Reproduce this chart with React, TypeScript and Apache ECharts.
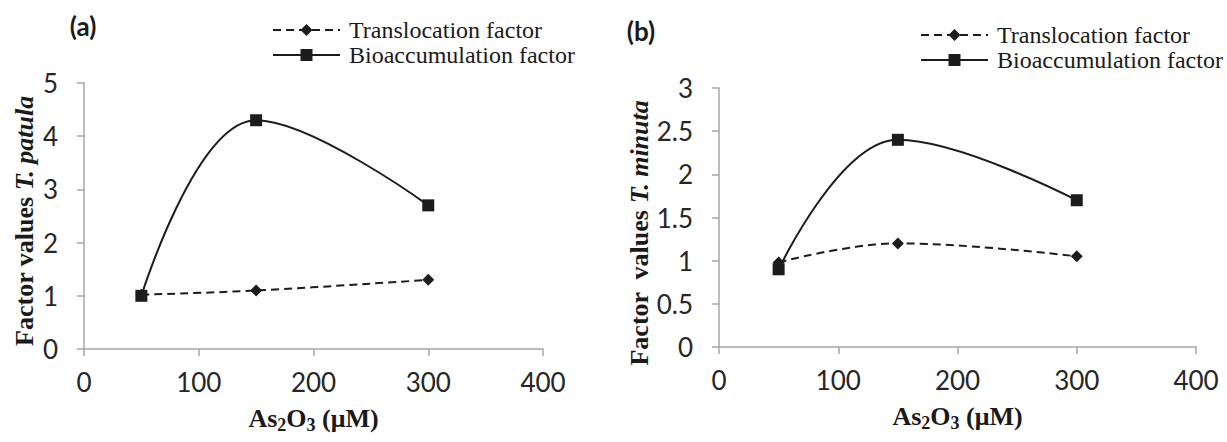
import React, { useEffect, useRef } from "react";
import * as echarts from "echarts";

// ---- data ----
const doses = [50, 150, 300];
const translocationA = [1.02, 1.1, 1.3];
const bioaccumulationA = [1.0, 4.3, 2.7];
const translocationB = [0.98, 1.2, 1.05];
const bioaccumulationB = [0.9, 2.4, 1.7];
const seriesNames = ["Translocation factor", "Bioaccumulation factor"];
const panelLabels = ["(a)", "(b)"];
const yTitleLead = ["Factor values ", "Factor  values "];
const yTitleSpecies = ["T. patula", "T. minuta"];
const xRange = [0, 400, 100];
const yRangeA = [0, 5, 1];
const yRangeB = [0, 3, 0.5];

const pairs = (ys: number[]) => doses.map((x, i) => [x, ys[i]]);

const AXIS_GRAY = "#a6a6a6";
const INK = "#1c1c1c";
const SERIF = '"Liberation Serif", "Times New Roman", serif';
const SANS = "Lato";

const xAxisCfg = (gridIndex: number) => ({
  type: "value",
  gridIndex,
  min: xRange[0],
  max: xRange[1],
  interval: xRange[2],
  axisLine: { show: true, onZero: false, lineStyle: { color: AXIS_GRAY, width: 1.5 } },
  axisTick: { show: true, inside: false, length: 7, lineStyle: { color: AXIS_GRAY, width: 1.5 } },
  splitLine: { show: false },
  axisLabel: {
    margin: 20,
    fontFamily: SANS,
    fontSize: 26,
    color: "#262626",
    showMinLabel: true,
    showMaxLabel: true,
  },
  name: "{m|As}{s|2}{m|O}{s|3}{m| (μM)}",
  nameLocation: "middle",
  nameGap: 56,
  nameTextStyle: {
    rich: {
      m: { fontFamily: SERIF, fontWeight: "bold", fontSize: 26, lineHeight: 27, color: "#1a1a1a" },
      s: { fontFamily: SERIF, fontWeight: "bold", fontSize: 18, lineHeight: 18, padding: [12, 0, 0, 0], color: "#1a1a1a" },
    },
  },
});

const yAxisCfg = (gridIndex: number, r: number[]) => ({
  type: "value",
  gridIndex,
  min: r[0],
  max: r[1],
  interval: r[2],
  axisLine: { show: true, onZero: false, lineStyle: { color: AXIS_GRAY, width: 1.5 } },
  axisTick: { show: true, inside: false, length: 7, lineStyle: { color: AXIS_GRAY, width: 1.5 } },
  splitLine: { show: false },
  axisLabel: {
    margin: 26,
    fontFamily: SANS,
    fontSize: 26,
    color: "#262626",
    showMinLabel: true,
    showMaxLabel: true,
  },
});

const lineSeries = (name: string, idx: number, ys: number[], dashed: boolean) => ({
  name,
  type: "line",
  xAxisIndex: idx,
  yAxisIndex: idx,
  data: pairs(ys),
  smooth: 0.4,
  symbol: dashed ? "diamond" : "rect",
  symbolSize: 12,
  showSymbol: true,
  itemStyle: { color: INK },
  lineStyle: { color: INK, width: 2, type: dashed ? [8, 5] : "solid" },
  z: dashed ? 2 : 3,
});

const legendCfg = (left: number, top: number) => ({
  left,
  top,
  orient: "vertical",
  padding: 0,
  itemWidth: 67,
  itemHeight: 15,
  itemGap: 1,
  selectedMode: false,
  data: seriesNames,
  textStyle: {
    fontFamily: SERIF,
    fontSize: 24,
    lineHeight: 22,
    color: "#1a1a1a",
    padding: [0, 0, 0, 4],
  },
});

const yTitle = (x: number, y: number, i: number) => ({
  type: "text",
  x,
  y,
  rotation: Math.PI / 2,
  style: {
    text: `{n|${yTitleLead[i]}}{i|${yTitleSpecies[i]}}`,
    align: "center",
    verticalAlign: "middle",
    fill: "#1a1a1a",
    rich: {
      n: { fontFamily: SERIF, fontWeight: "bold", fontSize: 26, fill: "#1a1a1a" },
      i: { fontFamily: SERIF, fontWeight: "bold", fontStyle: "italic", fontSize: 26, fill: "#1a1a1a" },
    },
  },
});

const panelLabel = (x: number, y: number, i: number) => ({
  type: "text",
  x,
  y,
  style: {
    text: panelLabels[i],
    align: "center",
    verticalAlign: "middle",
    fontFamily: SANS,
    fontWeight: "bold",
    fontSize: 26,
    fill: "#1a1a1a",
  },
});

export default function App() {
  const ref = useRef<HTMLDivElement>(null);
  useEffect(() => {
    if (!ref.current) return;
    const chart = echarts.init(ref.current, undefined, { renderer: "svg" });
    chart.setOption({
      animation: false,
      backgroundColor: "#ffffff",
      grid: [
        { left: 84, top: 83, width: 459, height: 266 },
        { left: 719, top: 88, width: 477, height: 259 },
      ],
      xAxis: [xAxisCfg(0), xAxisCfg(1)],
      yAxis: [yAxisCfg(0, yRangeA), yAxisCfg(1, yRangeB)],
      legend: [legendCfg(272, 18), legendCfg(920, 23)],
      series: [
        lineSeries(seriesNames[0], 0, translocationA, true),
        lineSeries(seriesNames[1], 0, bioaccumulationA, false),
        lineSeries(seriesNames[0], 1, translocationB, true),
        lineSeries(seriesNames[1], 1, bioaccumulationB, false),
      ],
      graphic: [
        yTitle(24, 221, 0),
        yTitle(639, 233, 1),
        panelLabel(83, 26, 0),
        panelLabel(641, 31, 1),
      ],
    });
    return () => chart.dispose();
  }, []);
  return (
    <div
      ref={ref}
      style={{ position: "absolute", left: 0, top: 0, width: 1227, height: 442, background: "#fff" }}
    />
  );
}
